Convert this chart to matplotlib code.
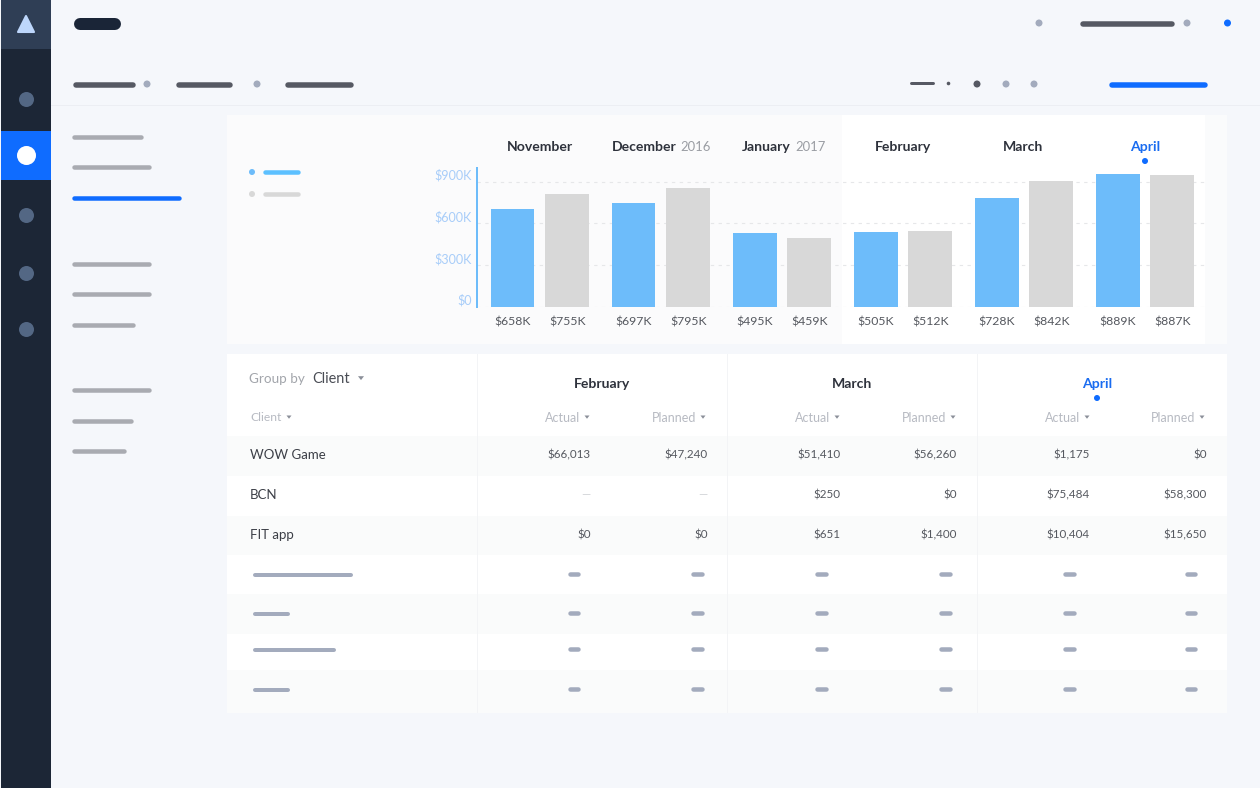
import matplotlib
matplotlib.use("Agg")
import matplotlib.pyplot as plt
from matplotlib.patches import Rectangle, Polygon, Circle

plt.rcParams["font.family"] = ["Lato", "DejaVu Sans"]

W, H = 1260, 788

# chart data
months = ["November", "December", "January", "February", "March", "April"]
actual = [658, 697, 495, 505, 728, 889]
planned = [755, 795, 459, 512, 842, 887]
y_labels = ["$0", "$300K", "$600K", "$900K"]
# the gridlines in the picture sit at these bar-scale values
y_grid = [0, 280, 560, 840]

# table data
clients = ["WOW Game", "BCN", "FIT app"]
feb_actual = ["$66,013", "—", "$0"]
feb_planned = ["$47,240", "—", "$0"]
mar_actual = ["$51,410", "$250", "$651"]
mar_planned = ["$56,260", "$0", "$1,400"]
apr_actual = ["$1,175", "$75,484", "$10,404"]
apr_planned = ["$0", "$58,300", "$15,650"]

BLUE = "#6dbcfa"
GRAY = "#d8d8d8"
ACCENT = "#1a6cf0"
DARK = "#2e323c"
PILL = "#a9abb1"
SLATE = "#a3abbd"


def px(v):
    return v * 0.72


fig = plt.figure(figsize=(W / 100, H / 100), dpi=100, facecolor="#f5f7fb")
bg = fig.add_axes([0, 0, 1, 1])
bg.set_xlim(0, W)
bg.set_ylim(H, 0)
bg.axis("off")


def rect(x0, y0, x1, y1, c):
    bg.add_patch(Rectangle((x0, y0), x1 - x0, y1 - y0, fc=c, ec="none"))


def pill(x0, x1, y, c, t=5):
    bg.plot([x0 + t / 2, x1 - t / 2], [y, y], color=c, lw=px(t), solid_capstyle="round")


def dot(x, y, c, r=3.5):
    bg.add_patch(Circle((x, y), r, fc=c, ec="none", zorder=3))


def caret(x, y, c="#8b8f99", s=3):
    bg.add_patch(Polygon([(x - s, y - s * 0.6), (x + s, y - s * 0.6), (x, y + s * 0.7)], fc=c, ec="none"))


# sidebar
rect(1, 0, 51, 788, "#1c2636")
rect(1, 0, 51, 49, "#2f3e55")
rect(1, 131, 51, 180, "#0f6cff")
bg.add_patch(Polygon([(26, 16), (34, 32), (18, 32)], fc="#bdd6fb", ec="#bdd6fb", lw=1.5, joinstyle="round"))
for yy in [99.5, 215.5, 273.5, 329.5]:
    dot(26.5, yy, "#536784", 7.5)
dot(26.5, 155.5, "white", 9.5)

# top bars
pill(74, 121, 23.5, "#1a2537", 12)
for a, b in [(73, 136), (176, 233), (285, 354)]:
    pill(a, b, 84.5, "#565963", 5.5)
dot(147, 84, SLATE)
dot(257, 84, SLATE)
dot(1039, 23, SLATE)
pill(1080, 1175, 23.5, "#565963", 5.5)
dot(1187, 23, SLATE)
dot(1227.5, 23, "#0f6cff")
pill(909, 934, 83, "#565963", 3)
dot(948.5, 83.5, "#565963", 1.8)
dot(977, 84, "#565963", 3.5)
dot(1006, 84, SLATE)
dot(1034, 84, SLATE)
pill(1109, 1207.5, 84.5, "#0f6cff", 5.5)
rect(51, 104.5, 1260, 105.5, "#eceef3")

# left list
for a, b, yy in [(72, 143, 137), (72, 151, 167), (72, 151, 264), (72, 151, 294),
                 (72, 135, 325), (72, 151, 390), (72, 133, 421), (72, 126, 451)]:
    pill(a, b, yy, PILL, 4.5)
pill(72, 181, 198, "#0f6cff", 4.5)

# chart panel
rect(227, 115, 842, 344, "#fbfbfc")
rect(842, 115, 1205, 344, "white")
rect(1205, 115, 1227, 344, "#fafbfc")
dot(252, 172, BLUE, 3)
pill(263, 300, 172, "#5cc0ff", 4.5)
dot(252, 194, GRAY, 3)
pill(263, 300, 194, GRAY, 4.5)

# table panel
rect(227, 354, 1227, 713, "white")
for a, b in [(436, 476), (516, 555), (594, 634), (670, 713)]:
    rect(227, a, 1227, b, "#fafbfb")
for xx in [477.5, 727, 977]:
    rect(xx - 0.5, 354, xx + 0.5, 713, "#f3f4f6")


def label(x, y, s, c=DARK, size=13, ha="left", weight="normal"):
    bg.text(x, y, s, color=c, fontsize=px(size), ha=ha, va="center", fontweight=weight)


# month headers
label(539.6, 146.7, months[0], ha="center", weight="bold", size=14)
label(677, 146.7, months[1], ha="right", weight="bold", size=14)
label(680, 146.7, "2016", c="#9a9da3", size=13)
label(790.5, 146.7, months[2], ha="right", weight="bold", size=14)
label(795, 146.7, "2017", c="#9a9da3", size=13)
label(902.5, 146.7, months[3], ha="center", weight="bold", size=14)
label(1023.5, 146.7, months[4], ha="center", weight="bold", size=14)
label(1145, 146.7, months[5], c=ACCENT, ha="center", weight="bold", size=14)
dot(1145, 161, "#0f6cff", 3)

# table header
label(249, 378.5, "Group by", c="#a2a5ab", size=13.5)
label(312, 378.5, "Client", c="#4a4d55", size=14.5)
caret(361, 378)
label(250, 417.5, "Client", c="#b7bac2", size=12)
caret(289, 417, s=2.5)
label(602, 383.5, "February", ha="center", weight="bold", size=14)
label(852, 383.5, "March", ha="center", weight="bold", size=14)
label(1097, 383.5, "April", c=ACCENT, ha="center", weight="bold", size=14)
dot(1097, 398, "#0f6cff", 3)
for ax_end, pl_end in [(580, 696), (830, 946), (1080, 1195)]:
    label(ax_end, 417.5, "Actual", c="#b7bac2", ha="right", size=12.5)
    caret(ax_end + 7, 417, s=2.5)
    label(pl_end, 417.5, "Planned", c="#b7bac2", ha="right", size=12.5)
    caret(pl_end + 7, 417, s=2.5)

# table body
row_y = [455, 495, 535]
col_right = [590.5, 707.5, 840.5, 957, 1090, 1206.5]
columns = [feb_actual, feb_planned, mar_actual, mar_planned, apr_actual, apr_planned]
for i, name in enumerate(clients):
    label(250, row_y[i], name, c="#3c3f47", size=13.3)
    for xr, col in zip(col_right, columns):
        c = "#d0d2d6" if col[i] == "—" else "#55585f"
        label(xr, row_y[i], col[i], c=c, ha="right", size=11.6)

# placeholder rows
for a, b, yy, dy in [(253, 353, 575, 574), (253, 290, 614, 613), (253, 336, 650, 649), (253, 290, 689.5, 688.5)]:
    pill(a, b, yy, SLATE, 4)
    for xc in [574, 697.5, 821.5, 945.5, 1069.5, 1191]:
        pill(xc - 6.5, xc + 6.5, dy, SLATE, 4.5)

# bar chart, axes placed in pixel coordinates
left, right, top, bottom = 477, 1205, 168, 307
ax = fig.add_axes([left / W, 1 - bottom / H, (right - left) / W, (bottom - top) / H])
ax.patch.set_alpha(0)
x = list(range(len(months)))
off = 0.225
bw = 0.36
b1 = ax.bar([i - off for i in x], actual, bw, color=BLUE)
b2 = ax.bar([i + off for i in x], planned, bw, color=GRAY)
ax.set_xlim(-0.52, 5.496)
ax.set_ylim(0, 931)
ax.set_axisbelow(True)
ax.set_xticks([])
ax.set_yticks(y_grid)
ax.set_yticklabels(y_labels, color="#a8cdf9", fontsize=px(12.6), va="bottom")
ax.tick_params(axis="y", length=0, pad=3.5)
ax.grid(axis="y", color="#e6e7e9", lw=0.8, dashes=(3, 4))
for s in ["top", "right", "bottom"]:
    ax.spines[s].set_visible(False)
ax.spines["left"].set_color(BLUE)
ax.spines["left"].set_linewidth(px(2))
for bars, vals in [(b1, actual), (b2, planned)]:
    for r, v in zip(bars, vals):
        ax.annotate(f"${v}K", (r.get_x() + r.get_width() / 2, 0), xytext=(0, -px(15)),
                    textcoords="offset points", ha="center", va="center",
                    color="#55585f", fontsize=px(12.3), annotation_clip=False)

fig.savefig("out.png", dpi=100, facecolor=fig.get_facecolor())
